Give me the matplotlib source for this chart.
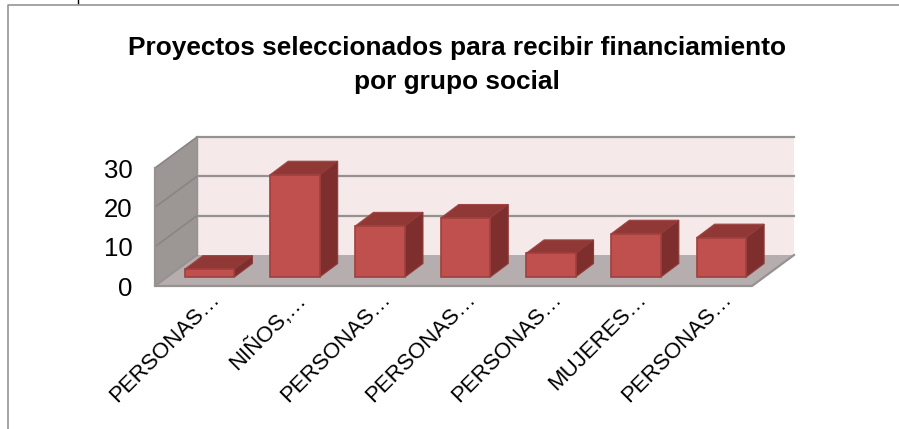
import matplotlib
matplotlib.use("Agg")
import matplotlib.pyplot as plt
from matplotlib.patches import Polygon
from matplotlib.lines import Line2D

categories = ["PERSONAS…", "NIÑOS,…", "PERSONAS…", "PERSONAS…", "PERSONAS…", "MUJERES…", "PERSONAS…"]
values = [2, 26, 13, 15, 6, 11, 10]
y_ticks = [0, 10, 20, 30]
title = "Proyectos seleccionados para recibir financiamiento\npor grupo social"

W, H = 899, 429
plt.rcParams['font.family'] = ['Liberation Sans', 'DejaVu Sans']
fig = plt.figure(figsize=(W / 100, H / 100), dpi=100, facecolor='white')

# front plane of the 3D box
px_l, px_r, px_b, px_t = 155, 752, 286, 168
ax = fig.add_axes([px_l / W, 1 - px_b / H, (px_r - px_l) / W, (px_b - px_t) / H])
ax.set_xlim(0, len(values))
ax.set_ylim(0, y_ticks[-1])
ax.patch.set_visible(False)
for s in ax.spines.values():
    s.set_visible(False)

ux = (px_r - px_l) / len(values)   # px per category
uy = (px_b - px_t) / y_ticks[-1]   # px per unit
wall_dx, wall_dy = 42 / ux, 31 / uy
bar_dx, bar_dy = 18 / ux, 13.5 / uy
bar_w = 49.5 / ux
base_dx, base_dy = 12 / ux, 9 / uy
n = len(values)
top = y_ticks[-1]

def poly(pts, fc, ec=None, lw=0, z=1):
    ax.add_patch(Polygon(pts, closed=True, facecolor=fc, edgecolor=ec or fc, linewidth=lw,
                         clip_on=False, zorder=z))

GRID = '#969292'
# back wall
poly([(wall_dx, wall_dy), (n + wall_dx, wall_dy), (n + wall_dx, top + wall_dy), (wall_dx, top + wall_dy)], '#f5e9e9')
# side wall
poly([(0, 0), (wall_dx, wall_dy), (wall_dx, top + wall_dy), (0, top)], '#9c9695')
# floor
poly([(0, 0), (n, 0), (n + wall_dx, wall_dy), (wall_dx, wall_dy)], '#b6aeae')
# gridlines
for t in y_ticks[1:]:
    ax.add_line(Line2D([wall_dx, n + wall_dx], [t + wall_dy, t + wall_dy], color=GRID, lw=1.6,
                       clip_on=False, zorder=2))
    ax.add_line(Line2D([0, wall_dx], [t, t + wall_dy], color='#8a8584', lw=1.2, clip_on=False, zorder=2))
ax.add_line(Line2D([0, wall_dx], [0, wall_dy], color=GRID, lw=1.4, clip_on=False, zorder=2))
ax.add_line(Line2D([n + wall_dx, n, 0, 0], [wall_dy, 0, 0, top], color=GRID, lw=1.6, clip_on=False, zorder=2))
ax.add_line(Line2D([wall_dx, wall_dx], [wall_dy, top + wall_dy], color=GRID, lw=1.0, clip_on=False, zorder=2))

# bars
for i, v in enumerate(values):
    x0 = i + 0.5 + base_dx - bar_w / 2
    x1 = x0 + bar_w
    y0 = base_dy
    y1 = base_dy + v
    z = 3
    poly([(x0, y1), (x1, y1), (x1 + bar_dx, y1 + bar_dy), (x0 + bar_dx, y1 + bar_dy)], '#8f3836', '#a04644', 0.8, z)
    poly([(x1, y0), (x1 + bar_dx, y0 + bar_dy), (x1 + bar_dx, y1 + bar_dy), (x1, y1)], '#7e2f2d', '#8f3b39', 0.8, z)
    poly([(x0, y0), (x1, y0), (x1, y1), (x0, y1)], '#c0504d', '#9f403d', 1.2, z)

ax.set_yticks(y_ticks)
ax.set_yticklabels([str(t) for t in y_ticks], fontsize=18.5, color='black')
ax.tick_params(axis='y', length=0, pad=16)
ax.set_xticks([i + 0.5 + 0.14 for i in range(n)])
ax.set_xticklabels(categories, rotation=45, ha='right', va='top', rotation_mode='anchor',
                   fontsize=16, color='black')
ax.tick_params(axis='x', length=0, pad=2)

fig.text(457 / W, 1 - 65 / H, title, ha='center', va='center', fontsize=18.9, fontweight='bold',
         color='black', linespacing=1.48)

# outer frame of the cropped page
FR = '#8c8c8c'
fig.add_artist(Line2D([8 / W, 8 / W, 1], [0, 1 - 4.5 / H, 1 - 4.5 / H], color=FR, lw=1.1,
                      transform=fig.transFigure))
fig.add_artist(Line2D([78 / W, 78 / W], [1 - 3 / H, 1], color='black', lw=1.0, transform=fig.transFigure))

fig.savefig('out.png', dpi=100)
